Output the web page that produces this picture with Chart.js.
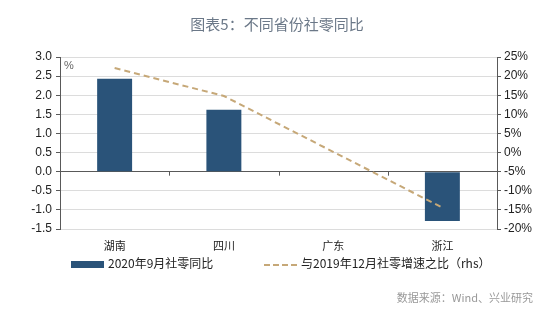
<!DOCTYPE html>
<html>
<head>
<meta charset="utf-8">
<script src="https://cdn.jsdelivr.net/npm/chart.js@4"></script>
<style>
  body { margin: 0; background: #fff; font-family: "Noto Sans CJK SC", sans-serif; }
  #wrap { position: relative; width: 554px; height: 322px; }
  #title { position: absolute; left: 0; width: 554px; top: 13px; text-align: center; font-size: 15px; color: #6b7888; }
  #pct { position: absolute; left: 64px; top: 59px; font-size: 11px; color: #666; font-family: Arial, "Liberation Sans", sans-serif; }
  .leg { position: absolute; top: 254px; font-size: 12px; color: #222; white-space: nowrap; }
  .leg .box { display: inline-block; width: 33px; height: 7px; background: #2a5379; vertical-align: middle; margin-right: 4px; }
  .leg .dash { display: inline-block; width: 33px; height: 0; border-top: 2px dashed #c6a878; vertical-align: middle; margin-right: 4px; }
  #src { position: absolute; right: 21px; top: 289px; font-size: 11px; color: #999; }
</style>
</head>
<body>
<div id="wrap">
  <canvas id="myChart" width="554" height="322"></canvas>
  <div id="title">图表5：不同省份社零同比</div>
  <div id="pct">%</div>
  <div class="leg" style="left:71px"><span class="box"></span>2020年9月社零同比</div>
  <div class="leg" style="left:264px"><span class="dash"></span>与2019年12月社零增速之比（rhs）</div>
  <div id="src">数据来源：Wind、兴业研究</div>
</div>
<script>
const provinces = ['湖南', '四川', '广东', '浙江'];
const sepYoy = [2.43, 1.62, 0, -1.29];
const vsDec2019 = [22.1, 14.8, 0.2, -14.4];
const leftTicks = [3.0, 2.5, 2.0, 1.5, 1.0, 0.5, 0.0, -0.5, -1.0, -1.5];
const rightTicks = [25, 20, 15, 10, 5, 0, -5, -10, -15, -20];

// short tick marks on the zero line between categories
const zeroTicks = {
  id: 'zeroTicks',
  afterDatasetsDraw(chart) {
    const x = chart.scales.x, y = chart.scales.y, c = chart.ctx;
    const y0 = y.getPixelForValue(0);
    const step = (x.right - x.left) / provinces.length;
    c.save();
    c.strokeStyle = '#595959';
    c.lineWidth = 1;
    for (let i = 1; i < provinces.length; i++) {
      const px = Math.round(x.left + step * i) + 0.5;
      c.beginPath(); c.moveTo(px, y0); c.lineTo(px, y0 + 4); c.stroke();
    }
    c.restore();
  }
};

const ctx = document.getElementById('myChart');
new Chart(ctx, {
  data: {
    labels: provinces,
    datasets: [{
      type: 'line',
      label: '与2019年12月社零增速之比（rhs）',
      data: vsDec2019,
      yAxisID: 'y1',
      borderColor: '#c6a878',
      borderWidth: 2,
      borderDash: [6, 4],
      pointRadius: 0,
      tension: 0,
      order: 0
    }, {
      type: 'bar',
      label: '2020年9月社零同比',
      data: sepYoy,
      yAxisID: 'y',
      backgroundColor: '#2a5379',
      barPercentage: 0.32,
      categoryPercentage: 1,
      order: 1
    }]
  },
  options: {
    responsive: false,
    animation: false,
    layout: { padding: { top: 57, left: 0, right: 0, bottom: 0 } },
    plugins: { legend: { display: false }, tooltip: { enabled: false } },
    scales: {
      x: {
        grid: { display: false },
        border: { display: false },
        ticks: { color: '#222', font: { size: 11, family: '"Noto Sans CJK SC"' }, padding: 2 },
        afterFit(s) { s.height = 93; }
      },
      y: {
        position: 'left',
        min: -1.5, max: 3.0,
        afterBuildTicks(s) { s.ticks = leftTicks.map(v => ({ value: v })); },
        ticks: {
          color: '#222',
          font: { size: 12, family: 'Arial, "Liberation Sans"' },
          padding: 4,
          callback: v => v.toFixed(1)
        },
        grid: {
          color: c => (c.tick && c.tick.value === 0) ? '#595959' : '#dcdcdc',
          tickColor: '#595959',
          tickLength: 4
        },
        border: { color: '#595959' },
        afterFit(s) { s.width = 60; }
      },
      y1: {
        position: 'right',
        min: -20, max: 25,
        afterBuildTicks(s) { s.ticks = rightTicks.map(v => ({ value: v })); },
        ticks: {
          color: '#222',
          font: { size: 12, family: 'Arial, "Liberation Sans"' },
          padding: 3,
          callback: v => v + '%'
        },
        grid: { drawOnChartArea: false, tickColor: '#595959', tickLength: 4 },
        border: { color: '#595959' },
        afterFit(s) { s.width = 57; }
      }
    }
  },
  plugins: [zeroTicks]
});
</script>
</body>
</html>
